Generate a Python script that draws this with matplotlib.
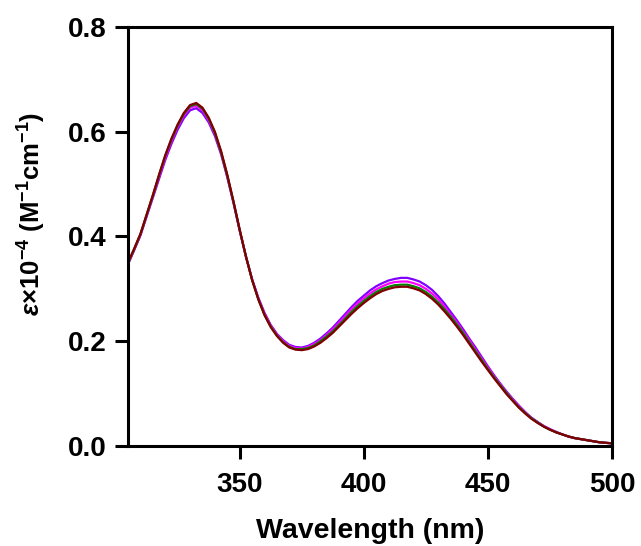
import matplotlib
matplotlib.use('Agg')
import matplotlib.pyplot as plt

plt.rcParams['font.family'] = ['Liberation Sans', 'DejaVu Sans']
plt.rcParams['font.weight'] = 'bold'
plt.rcParams['mathtext.fontset'] = 'custom'
plt.rcParams['mathtext.rm'] = 'Liberation Sans:bold'
plt.rcParams['mathtext.it'] = 'Liberation Sans:italic:bold'
plt.rcParams['mathtext.bf'] = 'Liberation Sans:bold'
plt.rcParams['mathtext.default'] = 'regular'

# wavelength grid, 2.5 nm steps from 305 to 500 nm
wavelength = [305 + 2.5 * i for i in range(79)]

eps_maroon = [0.350, 0.377, 0.405, 0.442, 0.479, 0.518, 0.555, 0.587, 0.614, 0.636,
              0.651, 0.655, 0.646, 0.627, 0.600, 0.563, 0.518, 0.467, 0.413, 0.362,
              0.317, 0.280, 0.250, 0.227, 0.210, 0.197, 0.188, 0.184, 0.183, 0.185,
              0.190, 0.197, 0.206, 0.216, 0.228, 0.240, 0.252, 0.263, 0.273, 0.282,
              0.290, 0.296, 0.300, 0.303, 0.304, 0.304, 0.301, 0.297, 0.290, 0.281,
              0.270, 0.257, 0.243, 0.228, 0.212, 0.195, 0.178, 0.161, 0.145, 0.129,
              0.114, 0.099, 0.086, 0.073, 0.062, 0.052, 0.044, 0.037, 0.031, 0.026,
              0.022, 0.018, 0.015, 0.013, 0.011, 0.009, 0.007, 0.006, 0.005]
eps_green = [0.349, 0.376, 0.404, 0.441, 0.478, 0.517, 0.554, 0.585, 0.612, 0.634,
             0.649, 0.653, 0.644, 0.625, 0.598, 0.561, 0.516, 0.466, 0.412, 0.362,
             0.317, 0.280, 0.250, 0.228, 0.211, 0.198, 0.189, 0.185, 0.185, 0.187,
             0.192, 0.200, 0.209, 0.219, 0.231, 0.243, 0.256, 0.267, 0.277, 0.286,
             0.294, 0.300, 0.304, 0.307, 0.308, 0.308, 0.305, 0.301, 0.294, 0.285,
             0.274, 0.261, 0.247, 0.232, 0.216, 0.198, 0.181, 0.164, 0.147, 0.131,
             0.116, 0.101, 0.087, 0.074, 0.063, 0.053, 0.045, 0.037, 0.031, 0.026,
             0.022, 0.018, 0.015, 0.013, 0.011, 0.009, 0.007, 0.006, 0.005]
eps_magenta = [0.348, 0.375, 0.403, 0.440, 0.476, 0.514, 0.550, 0.582, 0.609, 0.631,
               0.646, 0.650, 0.641, 0.622, 0.596, 0.560, 0.515, 0.465, 0.412, 0.362,
               0.318, 0.282, 0.253, 0.230, 0.213, 0.200, 0.191, 0.187, 0.186, 0.189,
               0.195, 0.202, 0.212, 0.223, 0.235, 0.248, 0.261, 0.272, 0.282, 0.291,
               0.299, 0.305, 0.310, 0.313, 0.314, 0.314, 0.311, 0.307, 0.300, 0.291,
               0.280, 0.266, 0.251, 0.236, 0.219, 0.202, 0.184, 0.167, 0.150, 0.133,
               0.118, 0.102, 0.089, 0.076, 0.064, 0.054, 0.045, 0.038, 0.032, 0.026,
               0.022, 0.018, 0.015, 0.013, 0.011, 0.009, 0.007, 0.006, 0.005]
eps_purple = [0.347, 0.374, 0.402, 0.438, 0.474, 0.510, 0.546, 0.577, 0.604, 0.626,
              0.641, 0.645, 0.636, 0.618, 0.592, 0.557, 0.513, 0.464, 0.411, 0.362,
              0.318, 0.283, 0.254, 0.231, 0.214, 0.202, 0.193, 0.189, 0.188, 0.191,
              0.197, 0.205, 0.215, 0.226, 0.239, 0.252, 0.265, 0.277, 0.287, 0.297,
              0.305, 0.311, 0.316, 0.319, 0.321, 0.321, 0.318, 0.314, 0.307, 0.298,
              0.286, 0.272, 0.256, 0.240, 0.223, 0.205, 0.188, 0.170, 0.152, 0.135,
              0.119, 0.104, 0.090, 0.077, 0.065, 0.054, 0.046, 0.038, 0.032, 0.027,
              0.022, 0.018, 0.015, 0.013, 0.011, 0.009, 0.007, 0.006, 0.005]

series = [(eps_purple, '#8000ff'), (eps_magenta, '#ff00ff'),
          (eps_green, '#008000'), (eps_maroon, '#800000')]

fig = plt.figure(figsize=(6.41, 5.46), dpi=100)
ax = fig.add_axes([0.1997, 0.1832, 0.7551, 0.7673])

for vals, col in series:
    ax.plot(wavelength, vals, color=col, lw=1.6)

ax.set_xlim(305, 500)
ax.set_ylim(0, 0.8)
ax.set_xticks([350, 400, 450, 500])
ax.set_yticks([0.0, 0.2, 0.4, 0.6, 0.8])
ax.set_yticklabels(['0.0', '0.2', '0.4', '0.6', '0.8'])

for s in ax.spines.values():
    s.set_linewidth(2.2)
ax.tick_params(direction='out', length=9.4, width=2.2, labelsize=20)
ax.tick_params(axis='x', pad=9)
ax.tick_params(axis='y', pad=6)
for lab in ax.get_xticklabels() + ax.get_yticklabels():
    lab.set_fontweight('bold')

ax.set_xlabel('Wavelength (nm)', fontsize=20.5, fontweight='bold', labelpad=15)
ax.set_ylabel(r'$\mathit{\varepsilon}$×10$^{-4}$ (M$^{-1}$cm$^{-1}$)',
              fontsize=18.5, fontweight='bold')
ax.yaxis.set_label_coords(-0.165, 0.554)

fig.savefig('out.png', dpi=100)
